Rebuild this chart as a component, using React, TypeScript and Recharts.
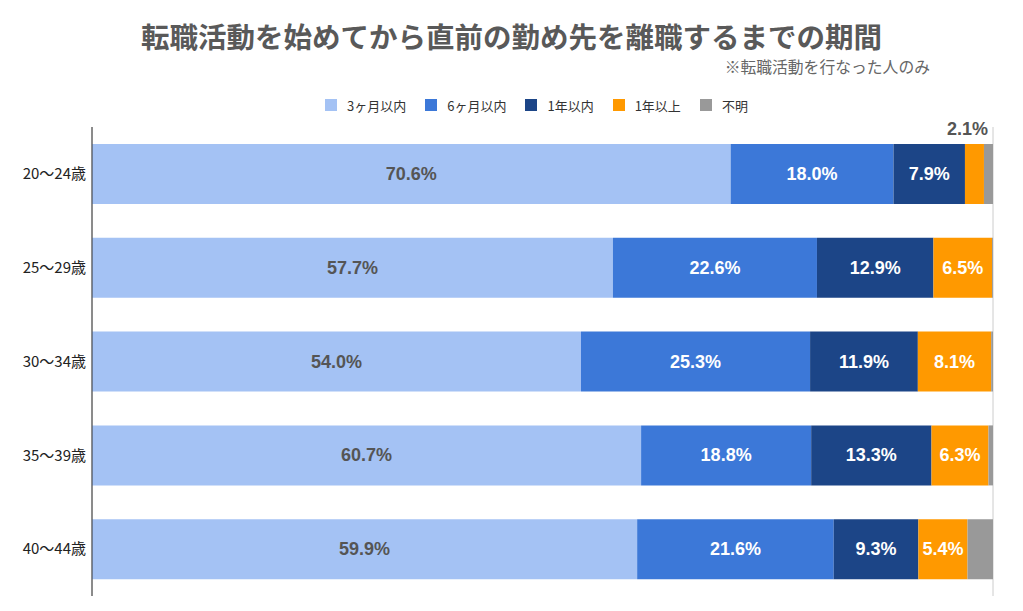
import { BarChart, Bar, XAxis, YAxis, CartesianGrid, LabelList } from "recharts";

const ageGroups = ["20〜24歳", "25〜29歳", "30〜34歳", "35〜39歳", "40〜44歳"];
const within3m = [70.6, 57.7, 54.0, 60.7, 59.9];
const within6m = [18.0, 22.6, 25.3, 18.8, 21.6];
const within1y = [7.9, 12.9, 11.9, 13.3, 9.3];
const over1y = [2.1, 6.5, 8.1, 6.3, 5.4];
const unknown = [1.0, 0.1, 0.2, 0.5, 2.8];

const seriesNames = ["3ヶ月以内", "6ヶ月以内", "1年以内", "1年以上", "不明"];
const seriesKeys = ["m3", "m6", "y1", "over", "unk"];
const colors = ["#a4c2f4", "#3c78d8", "#1c4587", "#ff9900", "#999999"];
const xTicks = [0, 0.25, 0.5, 0.75, 1];

const FONT = "'Liberation Sans', Arial, 'Noto Sans CJK JP', sans-serif";
const JP_FONT = "'Noto Sans CJK JP', 'Liberation Sans', sans-serif";

const data = ageGroups.map((age, i) => ({
  age,
  m3: within3m[i],
  m6: within6m[i],
  y1: within1y[i],
  over: over1y[i],
  unk: unknown[i],
}));

const makeLabel = (seriesIdx: number) => (props: any) => {
  const { x, y, width, height, value } = props;
  if (seriesIdx === 4) return null;
  const text = `${Number(value).toFixed(1)}%`;
  const fill = seriesIdx === 0 ? "#555555" : "#ffffff";
  // 幅が狭いとバーの外（上）に出す
  if (width < 40) {
    return (
      <text
        x={x + width + 4}
        y={y - 9}
        textAnchor="end"
        fill="#555555"
        fontSize={18}
        fontWeight="bold"
        fontFamily={FONT}
      >
        {text}
      </text>
    );
  }
  return (
    <text
      x={x + width / 2}
      y={y + height / 2}
      textAnchor="middle"
      dominantBaseline="central"
      fill={fill}
      fontSize={18}
      fontWeight="bold"
      fontFamily={FONT}
    >
      {text}
    </text>
  );
};

export default function App() {
  return (
    <div
      style={{
        position: "absolute",
        left: 0,
        top: 0,
        width: 1023,
        height: 611,
        background: "#ffffff",
        fontFamily: JP_FONT,
      }}
    >
      <div
        style={{
          position: "absolute",
          top: 16,
          left: 0,
          width: 1023,
          textAlign: "center",
          fontSize: 28.5,
          fontWeight: "bold",
          color: "#595959",
          lineHeight: "40px",
        }}
      >
        転職活動を始めてから直前の勤め先を離職するまでの期間
      </div>
      <div
        style={{
          position: "absolute",
          top: 57,
          right: 93,
          fontSize: 15.8,
          color: "#666666",
          lineHeight: "20px",
        }}
      >
        ※転職活動を行なった人のみ
      </div>
      <div
        style={{
          position: "absolute",
          top: 96,
          left: 325,
          display: "flex",
          alignItems: "center",
          height: 18,
          fontSize: 13,
          color: "#333333",
        }}
      >
        {seriesNames.map((name, i) => (
          <div key={name} style={{ display: "flex", alignItems: "center", marginRight: 19 }}>
            <span
              style={{
                display: "inline-block",
                width: 12,
                height: 12,
                background: colors[i],
                marginRight: 10,
              }}
            />
            <span>{name}</span>
          </div>
        ))}
      </div>
      <div style={{ position: "absolute", left: 0, top: 0 }}>
        <BarChart
          width={1023}
          height={611}
          data={data}
          layout="vertical"
          stackOffset="expand"
          barSize={60}
          margin={{ top: 127, right: 30, bottom: 15, left: 0 }}
        >
          <CartesianGrid horizontal={false} stroke="#cccccc" />
          <XAxis
            type="number"
            domain={[0, 1]}
            ticks={xTicks}
            tick={false}
            axisLine={false}
            tickLine={false}
            height={0}
          />
          <YAxis
            type="category"
            dataKey="age"
            width={92}
            axisLine={{ stroke: "#333333" }}
            tickLine={false}
            tick={{ fontSize: 15, fill: "#222222", fontFamily: JP_FONT }}
            tickMargin={0}
          />
          {seriesKeys.map((key, i) => (
            <Bar
              key={key}
              dataKey={key}
              name={seriesNames[i]}
              stackId="a"
              fill={colors[i]}
              isAnimationActive={false}
            >
              <LabelList dataKey={key} content={makeLabel(i)} />
            </Bar>
          ))}
        </BarChart>
      </div>
    </div>
  );
}
